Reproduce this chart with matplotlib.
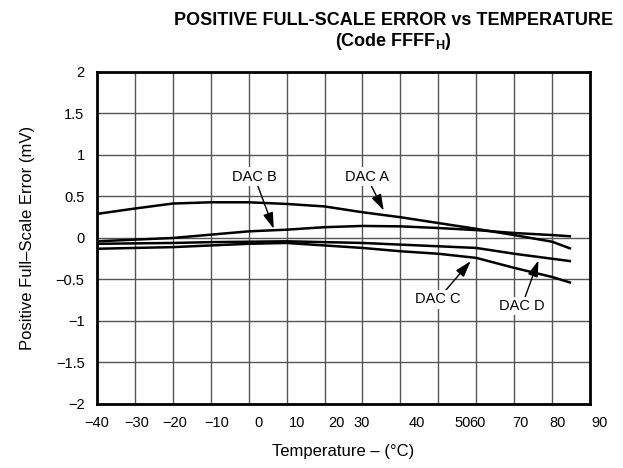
import numpy as np
import matplotlib
matplotlib.use("Agg")
import matplotlib.pyplot as plt
from matplotlib.transforms import ScaledTranslation

plt.rcParams['font.family'] = ['Liberation Sans', 'DejaVu Sans']
plt.rcParams['mathtext.fontset'] = 'custom'
plt.rcParams['mathtext.rm'] = 'Liberation Sans'
plt.rcParams['mathtext.bf'] = 'Liberation Sans:bold'

# temperature points (deg C) and error per DAC channel (mV)
temps = [-40, -30, -20, -10, 0, 10, 20, 30, 40, 50, 60, 70, 80, 85]
dac_a = [0.29, 0.355, 0.415, 0.43, 0.43, 0.41, 0.38, 0.31, 0.25, 0.18, 0.11, 0.035, -0.045, -0.13]
dac_b = [-0.04, -0.02, 0.00, 0.04, 0.08, 0.10, 0.13, 0.145, 0.14, 0.12, 0.095, 0.06, 0.035, 0.02]
dac_c = [-0.13, -0.12, -0.11, -0.09, -0.07, -0.06, -0.09, -0.12, -0.16, -0.19, -0.24, -0.36, -0.47, -0.54]
dac_d = [-0.07, -0.065, -0.06, -0.05, -0.045, -0.04, -0.05, -0.06, -0.08, -0.10, -0.12, -0.19, -0.25, -0.28]

xticks = list(range(-40, 91, 10))
xlabels = ['\u221240', '\u221230', '\u221220', '\u221210', '0', '10', '20', '30',
           '40', '50', '60', '70', '80', '90']
# horizontal nudge of each x label, in pixels
xlabel_shift = [0, 1.5, 2, 6, 10, 10, 12, -1, 16, 24, 1, 6, 5, 10]
yticks = [-2, -1.5, -1, -0.5, 0, 0.5, 1, 1.5, 2]
ylabels = ['\u22122', '\u22121.5', '\u22121', '\u22120.5', '0', '0.5', '1', '1.5', '2']

fig = plt.figure(figsize=(6.23, 4.68), dpi=100)
ax = fig.add_axes([0.1557, 0.1368, 0.7914, 0.7094])

for y in (dac_a, dac_b, dac_c, dac_d):
    ax.plot(temps, y, color='black', lw=1.8, solid_capstyle='butt', zorder=3)

ax.set_xlim(-40, 90)
ax.set_ylim(-2, 2)
ax.set_xticks(xticks)
ax.set_xticklabels(xlabels)
ax.set_yticks(yticks)
ax.set_yticklabels(ylabels)
ax.tick_params(axis='both', length=0, labelsize=10.5, pad=9)
ax.grid(True, color='#555555', lw=1.0, zorder=1)
ax.set_axisbelow(True)
for s in ax.spines.values():
    s.set_linewidth(2.0)
    s.set_zorder(4)

for lab, dx in zip(ax.get_xticklabels(), xlabel_shift):
    lab.set_transform(lab.get_transform() + ScaledTranslation(dx / 100, 0, fig.dpi_scale_trans))

ax.set_xlabel('Temperature \u2013 (\u00b0C)', fontsize=12, labelpad=10)
ax.set_ylabel('Positive Full\u2013Scale Error (mV)', fontsize=12, labelpad=15)

box = dict(boxstyle='square,pad=0.15', fc='white', ec='none')
arrow = dict(arrowstyle='-|>,head_length=0.7,head_width=0.22', color='black', lw=1.0,
             mutation_scale=14, shrinkA=0, shrinkB=0)
ax.annotate('DAC B', xy=(6.6, 0.11), xytext=(1.5, 0.74), ha='center', va='center',
            fontsize=10.5, bbox=box, arrowprops=arrow, zorder=5)
ax.annotate('DAC A', xy=(35.6, 0.33), xytext=(31.1, 0.74), ha='center', va='center',
            fontsize=10.5, bbox=box, arrowprops=arrow, zorder=5)
ax.annotate('DAC C', xy=(58.5, -0.28), xytext=(49.9, -0.74), ha='center', va='center',
            fontsize=10.5, bbox=box, arrowprops=arrow, zorder=5)
ax.annotate('DAC D', xy=(76.4, -0.27), xytext=(72.0, -0.82), ha='center', va='center',
            fontsize=10.5, bbox=box, arrowprops=arrow, zorder=5)

fig.text(0.632, 0.957, 'POSITIVE FULL-SCALE ERROR vs TEMPERATURE', ha='center', va='center',
         fontsize=13, fontweight='bold')
fig.text(0.632, 0.912, r'(Code FFFF$_{\mathbf{H}}$)', ha='center', va='center',
         fontsize=13, fontweight='bold')

fig.savefig('out.png', dpi=100)
